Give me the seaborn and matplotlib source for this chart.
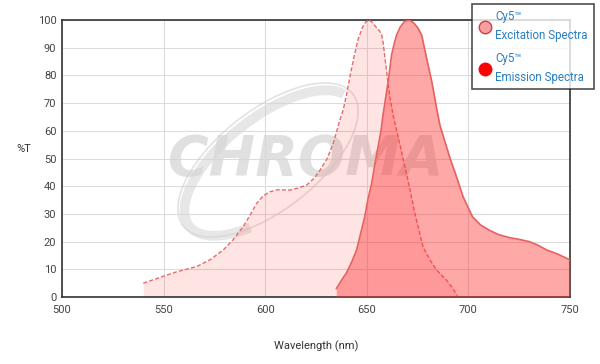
import matplotlib
matplotlib.use("Agg")
import matplotlib.pyplot as plt
import seaborn as sns
import pandas as pd
from matplotlib.lines import Line2D
from matplotlib.patches import Ellipse, Arc
from matplotlib.transforms import IdentityTransform

ex_wl = [540, 548, 556, 566.3, 573, 579.4, 584, 589.2, 592.5, 595.8, 599, 602.4, 606, 612.2, 616, 620.4, 624, 627, 630.5,
         633.5, 636.8, 638.4, 640, 641.7, 643.5, 645.7, 648, 649.5, 651, 652.5, 654.5, 656.5, 657.3, 658, 659, 660, 661.4,
         663, 664.7, 666.3, 670.3, 673.7, 677.7, 681, 684.4, 689.3, 692, 694.5]
ex_val = [5, 7, 9, 11, 13.5, 17, 20.5, 25.4, 29.5, 33.8, 36.5, 38, 38.7, 38.6, 39.3, 40.4, 42.8, 45.8, 50,
          55.5, 64, 67.5, 73, 79.5, 86, 93, 97.5, 99.3, 100, 99.3, 97.5, 95.8, 94.6, 92, 86, 80, 72,
          65.5, 60, 55, 42, 30, 18, 13.5, 9.7, 6, 3.5, 0.5]
em_wl = [635, 637.5, 640, 642.5, 645, 647, 649, 650.5, 652.4, 654, 655.5, 657, 658, 659.3, 660.5, 662.2, 663.5, 664.7,
         666.5, 668.5, 670.8, 673, 675, 677, 679.5, 682, 684.4, 686, 688.5, 691, 693.5, 697.5, 702, 706, 710.6, 715,
         720.5, 725, 730, 734, 738.5, 744, 750]
em_val = [3, 6, 8.7, 12.5, 17, 23, 29, 35, 41, 48, 54, 60, 65.7, 72, 77.7, 87.4, 91.5, 94.6,
          97.5, 99.4, 100, 99, 97.3, 94.6, 86, 77.7, 68, 62, 56, 50, 44.8, 36, 29, 26, 24, 22.5,
          21.4, 20.8, 20, 18.8, 17, 15.5, 13.4]

ex = pd.DataFrame({"wl": ex_wl, "val": ex_val})
em = pd.DataFrame({"wl": em_wl, "val": em_val})

sns.set_theme(style="white")
plt.rcParams['font.family'] = ['Roboto', 'DejaVu Sans']

fig = plt.figure(figsize=(6, 3.64), dpi=100)
ax = fig.add_axes([0.1033, 0.184, 0.8467, 0.761])

# watermark (pixel coordinates)
ident = IdentityTransform()
ax.add_patch(Ellipse((268, 364 - 160), 215, 100, angle=38, fill=False, ec='#d0d0d0',
                     lw=1.2, alpha=0.6, transform=ident, zorder=1))
ax.add_patch(Arc((270, 364 - 163), 205, 92, angle=38, theta1=5, theta2=215, ec='#d4d4d4',
                 lw=7, alpha=0.55, transform=ident, zorder=1))
ax.text(306, 364 - 160, "CHROMA", fontsize=40, fontweight='bold', style='italic',
        color='#d6d6d6', ha='center', va='center', alpha=0.75, zorder=1,
        transform=ident, family='DejaVu Sans')

ax.fill_between(ex["wl"], ex["val"], color='#ff4040', alpha=0.14, lw=0, zorder=2)
sns.lineplot(data=ex, x="wl", y="val", ax=ax, color='#e86a6a', lw=1, linestyle=(0, (3, 1.5)), zorder=3)
ax.fill_between(em["wl"], em["val"], color='#ff3030', alpha=0.42, lw=0, zorder=4)
sns.lineplot(data=em, x="wl", y="val", ax=ax, color='#e86060', lw=1.2, zorder=5)

ax.set_xlim(500, 750)
ax.set_ylim(0, 100)
ax.set_xticks([500, 550, 600, 650, 700, 750])
ax.set_yticks(range(0, 101, 10))
ax.grid(True, color='#dcdcdc', lw=0.8)
ax.set_axisbelow(True)
for s in ax.spines.values():
    s.set_color('#333333')
    s.set_linewidth(1.2)
ax.tick_params(labelsize=8, colors='#444444', length=0)
ax.tick_params(axis='x', pad=6)
ax.tick_params(axis='y', pad=4)
ax.set_xlabel("Wavelength (nm)", fontsize=8, color='#333333', labelpad=18)
ax.set_ylabel("%T", fontsize=8, color='#333333', rotation=0, va='center', ha='center')
ax.yaxis.set_label_coords(-0.075, 0.535)

handles = [
    Line2D([], [], marker='o', ls='', markersize=9, markerfacecolor='#f4a0a0', markeredgecolor='#d04040'),
    Line2D([], [], marker='o', ls='', markersize=9, markerfacecolor='#ff0000', markeredgecolor='#ff0000'),
]
labels = ["Cy5\u2122\nExcitation Spectra", "Cy5\u2122\nEmission Spectra"]
leg = fig.legend(handles, labels, loc='upper left', bbox_to_anchor=(0.787, 0.988),
                 fontsize=8.3, frameon=True, fancybox=False, labelspacing=0.9,
                 handletextpad=0.3, borderpad=0.5, handlelength=1.2, borderaxespad=0)
for t in leg.get_texts():
    t.set_color('#2a7fc0')
    t.set_linespacing(1.55)
leg.get_frame().set_edgecolor('#222222')
leg.get_frame().set_linewidth(1.2)

fig.savefig("out.png", dpi=100)
